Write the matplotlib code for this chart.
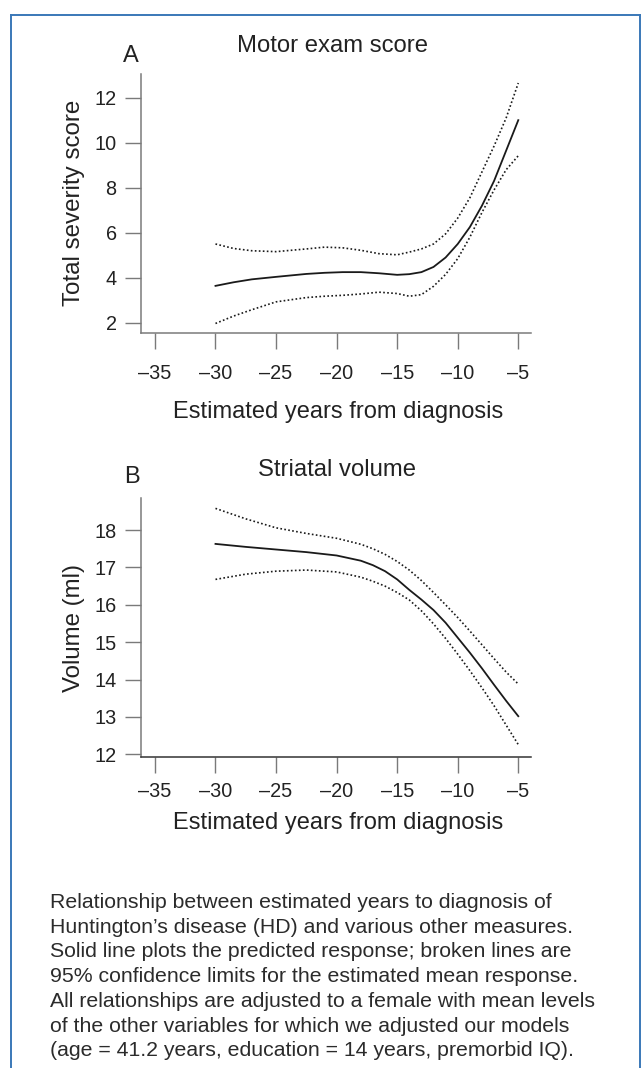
import matplotlib
matplotlib.use('Agg')
import matplotlib.pyplot as plt
from matplotlib.lines import Line2D

plt.rcParams['font.family'] = ['Liberation Sans', 'DejaVu Sans']

# panel A: motor exam score
motor_x = [-30, -28.5, -27, -25, -22.5, -21, -19.5, -18, -16.5, -15, -14, -13,
           -12, -11, -10, -9, -8, -7, -6, -5]
motor_fit = [3.64, 3.80, 3.93, 4.04, 4.17, 4.22, 4.25, 4.25, 4.20, 4.13, 4.16, 4.25,
             4.48, 4.90, 5.50, 6.25, 7.20, 8.30, 9.65, 11.0]
motor_hi = [5.50, 5.30, 5.20, 5.16, 5.28, 5.36, 5.33, 5.22, 5.07, 5.02, 5.14, 5.28,
            5.50, 5.95, 6.65, 7.55, 8.70, 9.85, 11.10, 12.65]
motor_lo = [1.97, 2.30, 2.58, 2.93, 3.12, 3.18, 3.22, 3.28, 3.36, 3.30, 3.18, 3.25,
            3.62, 4.15, 4.85, 5.80, 6.90, 7.90, 8.80, 9.42]

# panel B: striatal volume
vol_x = [-30, -27.5, -25, -22.5, -20, -18, -17, -16, -15, -14, -13, -12, -11, -10,
         -9, -8, -7, -6, -5]
vol_fit = [17.63, 17.55, 17.48, 17.41, 17.32, 17.18, 17.06, 16.90, 16.68, 16.40,
           16.14, 15.86, 15.52, 15.12, 14.72, 14.30, 13.86, 13.43, 13.02]
vol_hi = [18.58, 18.30, 18.06, 17.91, 17.78, 17.62, 17.50, 17.35, 17.16, 16.93,
          16.65, 16.33, 16.00, 15.66, 15.30, 14.93, 14.56, 14.20, 13.88]
vol_lo = [16.68, 16.82, 16.90, 16.93, 16.88, 16.74, 16.63, 16.50, 16.33, 16.13,
          15.84, 15.49, 15.10, 14.68, 14.24, 13.78, 13.30, 12.78, 12.26]

xticks = [-35, -30, -25, -20, -15, -10, -5]
motor_yticks = [2, 4, 6, 8, 10, 12]
vol_yticks = [12, 13, 14, 15, 16, 17, 18]

caption = ("Relationship between estimated years to diagnosis of\n"
           "Huntington\u2019s disease (HD) and various other measures.\n"
           "Solid line plots the predicted response; broken lines are\n"
           "95% confidence limits for the estimated mean response.\n"
           "All relationships are adjusted to a female with mean levels\n"
           "of the other variables for which we adjusted our models\n"
           "(age = 41.2 years, education = 14 years, premorbid IQ).")

W, H = 641, 1068
fig = plt.figure(figsize=(W / 100, H / 100), dpi=100)

# blue frame
blue = '#3a78b8'
fx0, fx1, fy = 10.8 / W, 639.8 / W, 1 - 14.5 / H
fig.add_artist(Line2D([fx0, fx0], [0, fy], color=blue, lw=1.4))
fig.add_artist(Line2D([fx0, fx1], [fy, fy], color=blue, lw=1.4))
fig.add_artist(Line2D([fx1, fx1], [0, fy], color=blue, lw=1.4))

left, width = 141 / W, 390 / W
axA = fig.add_axes([left, 1 - 332.7 / H, width, 258.7 / H])
axB = fig.add_axes([left, 1 - 757.3 / H, width, 259 / H])

dot = (0, (1, 1.4))
grey = '#7a7a7a'
txt = '#222222'


def style(ax, xpad):
    for s in ['top', 'right']:
        ax.spines[s].set_visible(False)
    for s in ['left', 'bottom']:
        ax.spines[s].set_color(grey)
        ax.spines[s].set_linewidth(1.1)
    ax.tick_params(axis='both', direction='out', length=11.5, width=1.0, color=grey,
                   labelcolor=txt, labelsize=14.3)
    ax.tick_params(axis='x', pad=xpad)
    ax.tick_params(axis='y', pad=6)
    ax.set_xticks(xticks)
    ax.set_xticklabels(['\u2013' + str(abs(t)) for t in xticks])


axA.plot(motor_x, motor_fit, color='#1a1a1a', lw=1.3)
axA.plot(motor_x, motor_hi, color='#1a1a1a', lw=1.2, linestyle=dot)
axA.plot(motor_x, motor_lo, color='#1a1a1a', lw=1.2, linestyle=dot)
axA.set_xlim(-36.15, -3.95)
axA.set_ylim(1.56, 13.05)
style(axA, 11)
axA.set_yticks(motor_yticks)
axA.set_ylabel('Total severity score', fontsize=17.4, color=txt, va='center')
axA.yaxis.set_label_coords(-0.172, 0.5)
axA.set_xlabel('Estimated years from diagnosis', fontsize=17, color=txt, va='center')
axA.xaxis.set_label_coords(0.505, -0.307)
axA.text(0.492, 1.108, 'Motor exam score', transform=axA.transAxes, fontsize=17.2,
         color=txt, ha='center', va='center')
axA.text(-0.026, 1.07, 'A', transform=axA.transAxes, fontsize=17, color=txt,
         ha='center', va='center')

axB.plot(vol_x, vol_fit, color='#1a1a1a', lw=1.3)
axB.plot(vol_x, vol_hi, color='#1a1a1a', lw=1.2, linestyle=dot)
axB.plot(vol_x, vol_lo, color='#1a1a1a', lw=1.2, linestyle=dot)
axB.set_xlim(-36.15, -3.95)
axB.set_ylim(11.92, 18.85)
style(axB, 6)
axB.spines['bottom'].set_color('#333333')
axB.set_yticks(vol_yticks)
axB.set_ylabel('Volume (ml)', fontsize=17.3, color=txt, va='center')
axB.yaxis.set_label_coords(-0.172, 0.5)
axB.set_xlabel('Estimated years from diagnosis', fontsize=17, color=txt, va='center')
axB.xaxis.set_label_coords(0.505, -0.255)
axB.text(0.503, 1.109, 'Striatal volume', transform=axB.transAxes, fontsize=17.2,
         color=txt, ha='center', va='center')
axB.text(-0.023, 1.082, 'B', transform=axB.transAxes, fontsize=17, color=txt,
         ha='center', va='center')

fig.text(50 / W, 1 - 893 / H, caption, fontsize=15.35, color='#2b2b2b', ha='left',
         va='top', linespacing=1.38)

fig.savefig('out.png', dpi=100)
